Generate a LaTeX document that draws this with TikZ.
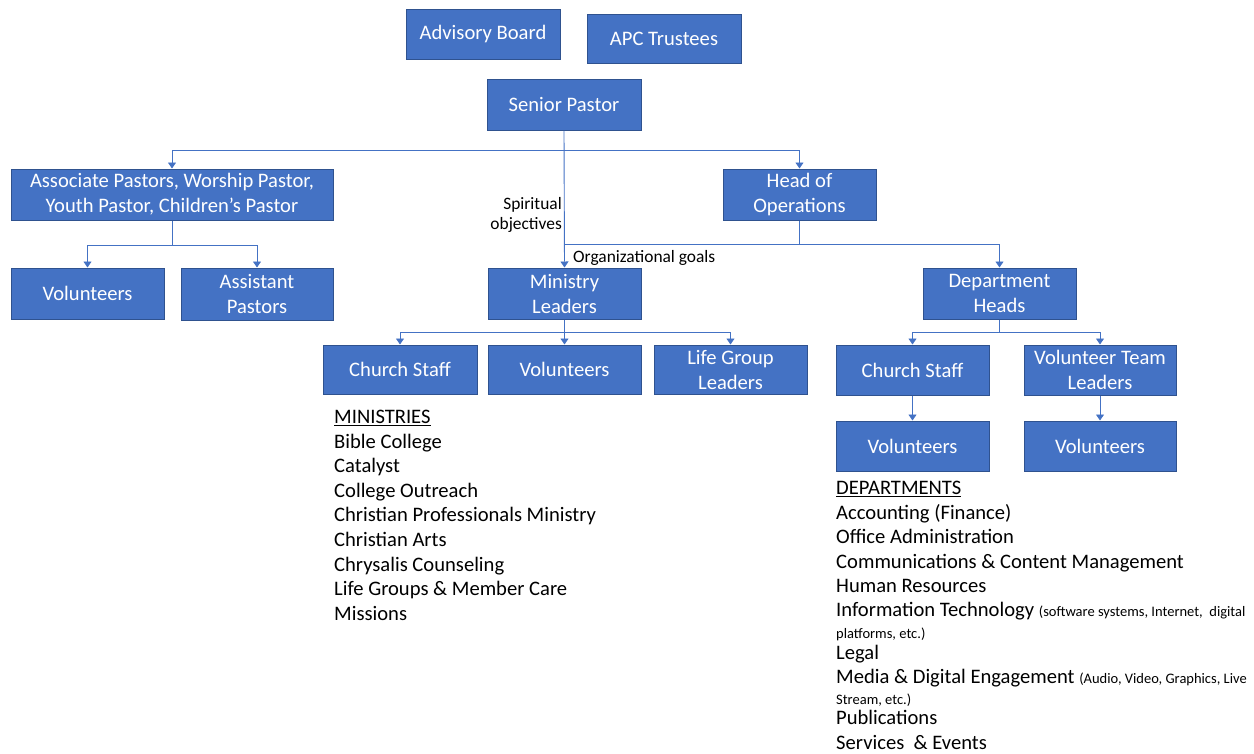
\documentclass[tikz,border=0pt]{standalone}
\usepackage{fontspec}
\setmainfont{Carlito}
\usetikzlibrary{arrows.meta}
\definecolor{boxfill}{HTML}{4472C4}
\definecolor{boxline}{HTML}{2F528F}
\definecolor{conn}{HTML}{4472C4}
\begin{document}
\begin{tikzpicture}[x=1pt,y=-1pt,
  box/.style={draw=boxline, fill=boxfill, line width=1pt, text=white, align=center,
    inner sep=0pt, font=\fontsize{20.6}{25}\selectfont, minimum width=153pt, minimum height=50pt},
  arr/.style={draw=conn, line width=0.9pt, -{Triangle[length=6pt,width=8pt]}},
  ln/.style={draw=conn, line width=0.9pt},
  lst/.style={anchor=base west, inner sep=0pt, font=\fontsize{20.6}{24}\selectfont},
  smalltxt/.style={anchor=base west, inner sep=0pt, font=\fontsize{14.5}{17}\selectfont},
  lbl/.style={inner sep=0pt, font=\fontsize{17.4}{20}\selectfont}]
\useasboundingbox (0,0) rectangle (1254,753);

% boxes
\node[box, minimum width=154pt] (adv) at (483,34) {Advisory Board};
\node[box, minimum width=154pt, minimum height=49pt] (apc) at (664,38.5) {APC Trustees};
\node[box, minimum width=154pt, minimum height=51pt] (sp) at (564,104.5) {Senior Pastor};
\node[box, minimum width=322pt, minimum height=51pt] (assoc) at (172,194.5) {Associate Pastors, Worship Pastor,\\Youth Pastor, Children’s Pastor};
\node[box, minimum height=51pt] (hoo) at (799.5,194.5) {Head of\\Operations};
\node[box, minimum height=51pt] (volL) at (87.5,293.5) {Volunteers};
\node[box, minimum width=152pt, minimum height=52pt] (asst) at (257,294) {Assistant\\Pastors};
\node[box, minimum height=51pt] (ml) at (564.5,293.5) {Ministry\\Leaders};
\node[box, minimum height=51pt] (dh) at (999.5,293.5) {Department\\Heads};
\node[box, minimum width=154pt, minimum height=49pt] (cs1) at (400,369.5) {Church Staff};
\node[box, minimum height=49pt] (vol2) at (564.5,369.5) {Volunteers};
\node[box, minimum height=49pt] (lgl) at (730.5,369.5) {Life Group\\Leaders};
\node[box] (cs2) at (912.5,370) {Church Staff};
\node[box, minimum width=152pt] (vtl) at (1100,370) {Volunteer Team\\Leaders};
\node[box] (vol3) at (912.5,446) {Volunteers};
\node[box, minimum width=152pt] (vol4) at (1100,446) {Volunteers};

% connectors
\coordinate (j1) at (564,150);
\coordinate (j2) at (799.5,244);
\coordinate (j3) at (172,245);
\coordinate (j4) at (564.5,332);
\coordinate (j5) at (999.5,332);
\draw[arr] (sp.south) -- (ml.north);
\draw[arr] (j1) -| (assoc.north);
\draw[arr] (j1) -| (hoo.north);
\draw[ln] (hoo.south) -- (j2);
\draw[ln] (j2) -- (sp.south |- j2);
\draw[arr] (j2) -| (dh.north);
\draw[ln] (assoc.south) -- (j3);
\draw[arr] (j3) -| (volL.north);
\draw[arr] (j3) -| (asst.north);
\draw[ln] (ml.south) -- (j4);
\draw[arr] (j4) -| (cs1.north);
\draw[arr] (j4) -- (vol2.north);
\draw[arr] (j4) -| (lgl.north);
\draw[ln] (dh.south) -- (j5);
\draw[arr] (j5) -| (cs2.north);
\draw[arr] (j5) -| (vtl.north);
\draw[arr] (cs2.south) -- (vol3.north);
\draw[arr] (vtl.south) -- (vol4.north);

% connector labels
\node[lbl, anchor=base east] (so1) at (562,209) {Spiritual};
\node[lbl, anchor=base east] (so2) at (562,229) {objectives};
\node[lbl, anchor=base west] (og) at (573,262) {Organizational goals};

% ministries list
\node[lst] (m0) at (334,423.5) {\underline{MINISTRIES}};
\foreach \t [count=\i] in {Bible College, Catalyst, College Outreach, Christian Professionals Ministry, Christian Arts, Chrysalis Counseling, Life Groups \& Member Care, Missions}
  \node[lst] (m\i) at (334,423.5+24.6*\i) {\t};

% departments list
\node[lst] (d0) at (836,494.5) {\underline{DEPARTMENTS}};
\node[lst] (d1) at (836,519.5) {Accounting (Finance)};
\node[lst] (d2) at (836,543.5) {Office Administration};
\node[lst] (d3) at (836,568.5) {Communications \& Content Management};
\node[lst] (d4) at (836,592.5) {Human Resources};
\node[lst] (d5) at (836,616.5) {Information Technology {\fontsize{14.5}{17}\selectfont (software systems, Internet,\ \ digital}};
\node[smalltxt] (d5b) at (836,638) {platforms, etc.)};
\node[lst] (d6) at (836,659.5) {Legal};
\node[lst] (d7) at (836,683.5) {Media \& Digital Engagement {\fontsize{14.5}{17}\selectfont (Audio, Video, Graphics, Live}};
\node[smalltxt] (d7b) at (836,704) {Stream, etc.)};
\node[lst] (d8) at (836,724.5) {Publications};
\node[lst] (d9) at (836,749.5) {Services\ \ \& Events};
\end{tikzpicture}
\end{document}
